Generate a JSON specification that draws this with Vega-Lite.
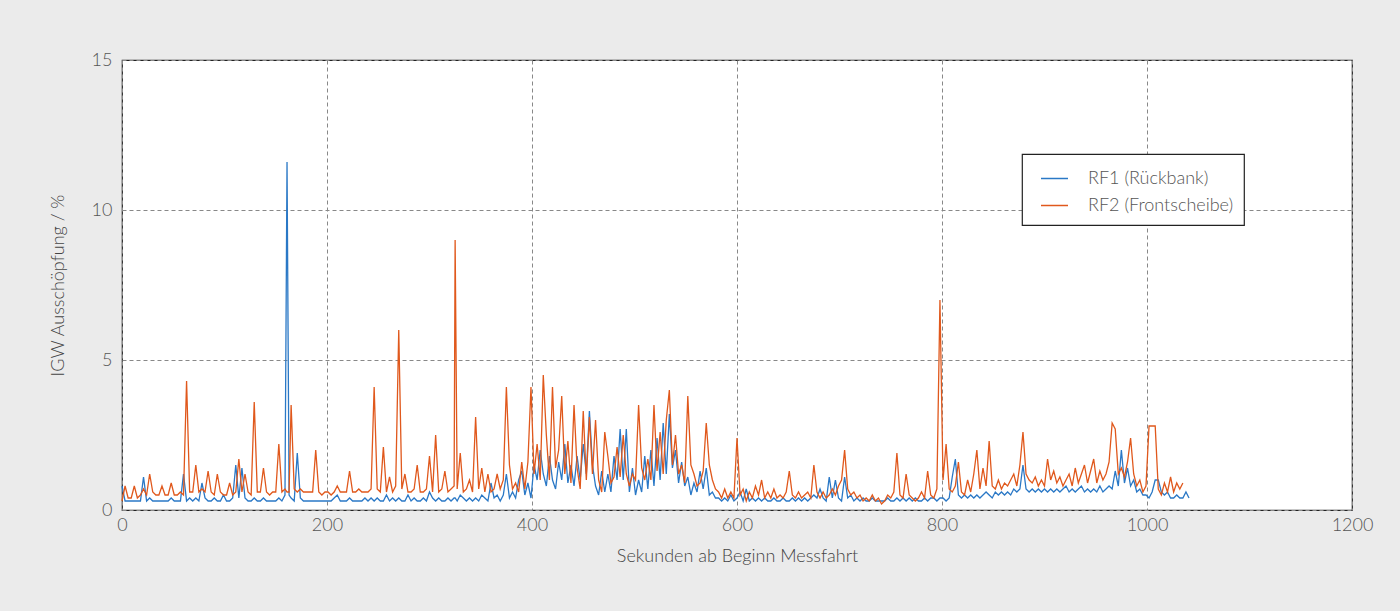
{
"$schema":"https://vega.github.io/schema/vega-lite/v6.json",
"width":1230,"height":450,
"autosize":{"type":"none"},
"padding":{"left":122,"top":60,"right":48,"bottom":101},
"background":"#ebebeb",
"config":{"view":{"fill":"white","stroke":"#222","strokeWidth":1.2},"font":"Lato","legend":{"strokeWidth":1.2}},
"data":{"values":[
{"t":0,"a":0.8,"b":0.3},{"t":3,"a":0.3,"b":0.8},{"t":6,"a":0.3,"b":0.4},{"t":9,"a":0.3,"b":0.4},{"t":12,"a":0.3,"b":0.8},{"t":15,"a":0.3,"b":0.4},{"t":18,"a":0.3,"b":0.5},{"t":21,"a":1.1,"b":0.7},{"t":24,"a":0.3,"b":0.5},{"t":27,"a":0.4,"b":1.2},{"t":30,"a":0.3,"b":0.6},{"t":33,"a":0.3,"b":0.5},{"t":36,"a":0.3,"b":0.5},{"t":39,"a":0.3,"b":0.8},{"t":42,"a":0.3,"b":0.5},{"t":45,"a":0.3,"b":0.5},{"t":48,"a":0.4,"b":0.9},{"t":51,"a":0.3,"b":0.5},{"t":54,"a":0.3,"b":0.5},{"t":57,"a":0.3,"b":0.6},{"t":60,"a":1.2,"b":0.5},{"t":63,"a":0.3,"b":4.3},{"t":66,"a":0.4,"b":0.6},{"t":69,"a":0.3,"b":0.6},{"t":72,"a":0.4,"b":1.5},{"t":75,"a":0.3,"b":0.6},{"t":78,"a":0.9,"b":0.7},{"t":81,"a":0.4,"b":0.6},{"t":84,"a":0.3,"b":1.3},{"t":87,"a":0.3,"b":0.6},{"t":90,"a":0.4,"b":0.5},{"t":93,"a":0.3,"b":1.2},{"t":96,"a":0.3,"b":0.6},{"t":99,"a":0.5,"b":0.5},
{"t":102,"a":0.3,"b":0.5},{"t":105,"a":0.3,"b":0.9},{"t":108,"a":0.4,"b":0.5},{"t":111,"a":1.5,"b":0.6},{"t":114,"a":0.4,"b":1.7},{"t":117,"a":1.4,"b":0.6},{"t":120,"a":0.4,"b":1.2},{"t":123,"a":0.3,"b":0.6},{"t":126,"a":0.3,"b":0.5},{"t":129,"a":0.4,"b":3.6},{"t":132,"a":0.3,"b":0.6},{"t":135,"a":0.3,"b":0.6},{"t":138,"a":0.4,"b":1.4},{"t":141,"a":0.3,"b":0.6},{"t":144,"a":0.3,"b":0.5},{"t":147,"a":0.3,"b":0.6},{"t":150,"a":0.3,"b":0.6},{"t":153,"a":0.4,"b":2.2},{"t":156,"a":0.3,"b":0.6},{"t":159,"a":0.5,"b":0.7},{"t":161,"a":11.6,"b":0.6},{"t":163,"a":0.5,"b":0.6},{"t":165,"a":0.4,"b":3.5},{"t":168,"a":0.3,"b":0.7},{"t":171,"a":1.9,"b":0.6},{"t":174,"a":0.4,"b":0.7},{"t":177,"a":0.3,"b":0.6},{"t":180,"a":0.3,"b":0.6},{"t":183,"a":0.3,"b":0.6},{"t":186,"a":0.3,"b":0.6},{"t":189,"a":0.3,"b":2.0},{"t":192,"a":0.3,"b":0.6},{"t":195,"a":0.3,"b":0.5},{"t":198,"a":0.3,"b":0.6},
{"t":201,"a":0.3,"b":0.6},{"t":204,"a":0.3,"b":0.5},{"t":207,"a":0.4,"b":0.6},{"t":210,"a":0.5,"b":0.8},{"t":213,"a":0.3,"b":0.6},{"t":216,"a":0.3,"b":0.6},{"t":219,"a":0.3,"b":0.6},{"t":222,"a":0.4,"b":1.3},{"t":225,"a":0.3,"b":0.6},{"t":228,"a":0.3,"b":0.6},{"t":231,"a":0.3,"b":0.7},{"t":234,"a":0.3,"b":0.6},{"t":237,"a":0.4,"b":0.6},{"t":240,"a":0.3,"b":0.6},{"t":243,"a":0.4,"b":0.7},{"t":246,"a":0.3,"b":4.1},{"t":249,"a":0.4,"b":0.7},{"t":252,"a":0.3,"b":0.6},{"t":255,"a":0.3,"b":2.1},{"t":258,"a":0.5,"b":0.6},{"t":261,"a":0.3,"b":1.1},{"t":264,"a":0.4,"b":0.6},{"t":267,"a":0.3,"b":0.8},{"t":270,"a":0.4,"b":6.0},{"t":273,"a":0.3,"b":0.7},{"t":276,"a":0.3,"b":1.2},{"t":279,"a":0.5,"b":0.6},{"t":282,"a":0.3,"b":0.6},{"t":285,"a":0.4,"b":0.7},{"t":288,"a":0.3,"b":1.5},{"t":291,"a":0.3,"b":0.6},{"t":294,"a":0.4,"b":0.6},{"t":297,"a":0.3,"b":0.7},
{"t":300,"a":0.6,"b":1.8},{"t":303,"a":0.4,"b":0.6},{"t":306,"a":0.3,"b":2.5},{"t":309,"a":0.4,"b":0.6},{"t":312,"a":0.3,"b":0.7},{"t":315,"a":0.3,"b":1.3},{"t":318,"a":0.4,"b":0.6},{"t":321,"a":0.3,"b":0.7},{"t":324,"a":0.4,"b":0.8},{"t":325,"a":0.4,"b":9.0},{"t":327,"a":0.3,"b":0.7},{"t":330,"a":0.5,"b":1.9},{"t":333,"a":0.4,"b":0.6},{"t":336,"a":0.3,"b":0.7},{"t":339,"a":0.4,"b":1.0},{"t":342,"a":0.3,"b":0.6},{"t":345,"a":0.4,"b":3.1},{"t":348,"a":0.3,"b":0.7},{"t":351,"a":0.5,"b":1.4},{"t":354,"a":0.4,"b":0.6},{"t":357,"a":0.3,"b":1.2},{"t":360,"a":0.9,"b":0.6},{"t":363,"a":0.4,"b":0.7},{"t":366,"a":0.5,"b":1.2},{"t":369,"a":0.3,"b":0.7},{"t":372,"a":0.5,"b":1.0},{"t":375,"a":1.2,"b":4.1},{"t":378,"a":0.4,"b":1.5},{"t":381,"a":0.6,"b":0.7},{"t":384,"a":0.4,"b":0.9},{"t":387,"a":1.0,"b":0.6},{"t":390,"a":1.3,"b":1.6},{"t":393,"a":0.5,"b":0.7},{"t":396,"a":0.9,"b":1.6},{"t":399,"a":0.4,"b":4.1},
{"t":402,"a":1.5,"b":1.2},{"t":405,"a":1.0,"b":2.2},{"t":408,"a":2.0,"b":1.0},{"t":411,"a":1.2,"b":4.5},{"t":414,"a":0.8,"b":2.5},{"t":417,"a":1.8,"b":1.0},{"t":420,"a":1.0,"b":4.1},{"t":423,"a":0.7,"b":1.4},{"t":426,"a":1.6,"b":2.0},{"t":429,"a":1.0,"b":3.8},{"t":432,"a":2.2,"b":1.2},{"t":435,"a":0.9,"b":2.3},{"t":438,"a":1.5,"b":0.9},{"t":441,"a":0.8,"b":3.5},{"t":444,"a":1.8,"b":1.4},{"t":447,"a":1.0,"b":0.7},{"t":450,"a":2.2,"b":3.3},{"t":453,"a":1.2,"b":1.0},{"t":456,"a":3.3,"b":3.1},{"t":459,"a":1.5,"b":1.2},{"t":462,"a":0.8,"b":3.0},{"t":465,"a":0.5,"b":1.0},{"t":468,"a":1.3,"b":0.6},{"t":471,"a":0.6,"b":2.6},{"t":474,"a":1.2,"b":1.8},{"t":477,"a":0.6,"b":0.9},{"t":480,"a":1.8,"b":1.1},{"t":483,"a":1.0,"b":2.1},{"t":486,"a":2.7,"b":1.1},{"t":489,"a":1.0,"b":2.5},{"t":492,"a":2.7,"b":1.2},{"t":495,"a":0.6,"b":0.8},{"t":498,"a":1.4,"b":1.2},
{"t":501,"a":0.5,"b":1.0},{"t":504,"a":1.0,"b":3.5},{"t":507,"a":0.6,"b":1.4},{"t":510,"a":1.8,"b":1.0},{"t":513,"a":0.7,"b":1.7},{"t":516,"a":2.0,"b":1.0},{"t":519,"a":0.8,"b":3.5},{"t":522,"a":2.4,"b":1.3},{"t":525,"a":1.0,"b":2.6},{"t":528,"a":2.9,"b":1.2},{"t":531,"a":1.2,"b":3.0},{"t":534,"a":3.2,"b":4.0},{"t":537,"a":1.4,"b":1.5},{"t":540,"a":2.0,"b":2.5},{"t":543,"a":0.9,"b":1.2},{"t":546,"a":1.6,"b":1.5},{"t":549,"a":0.8,"b":0.9},{"t":552,"a":1.1,"b":3.8},{"t":555,"a":0.5,"b":1.5},{"t":558,"a":0.9,"b":1.2},{"t":561,"a":0.6,"b":0.8},{"t":564,"a":1.3,"b":0.9},{"t":567,"a":0.7,"b":1.3},{"t":570,"a":1.4,"b":2.9},{"t":573,"a":0.5,"b":1.5},{"t":576,"a":0.6,"b":1.0},{"t":579,"a":0.4,"b":0.7},{"t":582,"a":0.4,"b":0.6},{"t":585,"a":0.3,"b":0.4},{"t":588,"a":0.4,"b":0.7},{"t":591,"a":0.3,"b":0.4},{"t":594,"a":0.5,"b":0.6},{"t":597,"a":0.3,"b":0.4},
{"t":600,"a":0.4,"b":2.4},{"t":603,"a":0.6,"b":0.5},{"t":606,"a":0.3,"b":0.7},{"t":609,"a":0.7,"b":0.3},{"t":612,"a":0.3,"b":0.6},{"t":615,"a":0.4,"b":0.4},{"t":618,"a":0.3,"b":0.8},{"t":621,"a":0.4,"b":0.5},{"t":624,"a":0.3,"b":1.0},{"t":627,"a":0.4,"b":0.4},{"t":630,"a":0.3,"b":0.6},{"t":633,"a":0.3,"b":0.4},{"t":636,"a":0.4,"b":0.7},{"t":639,"a":0.3,"b":0.4},{"t":642,"a":0.3,"b":0.5},{"t":645,"a":0.4,"b":0.4},{"t":648,"a":0.3,"b":0.6},{"t":651,"a":0.3,"b":1.3},{"t":654,"a":0.4,"b":0.5},{"t":657,"a":0.3,"b":0.4},{"t":660,"a":0.4,"b":0.6},{"t":663,"a":0.3,"b":0.4},{"t":666,"a":0.4,"b":0.5},{"t":669,"a":0.3,"b":0.6},{"t":672,"a":0.4,"b":0.4},{"t":675,"a":0.5,"b":1.5},{"t":678,"a":0.4,"b":0.6},{"t":681,"a":0.7,"b":0.4},{"t":684,"a":0.4,"b":0.6},{"t":687,"a":0.3,"b":0.4},{"t":690,"a":1.1,"b":0.5},{"t":693,"a":0.4,"b":0.7},{"t":696,"a":1.0,"b":0.5},{"t":699,"a":0.4,"b":0.8},
{"t":702,"a":0.3,"b":1.0},{"t":705,"a":1.1,"b":2.0},{"t":708,"a":0.4,"b":0.7},{"t":711,"a":0.5,"b":0.5},{"t":714,"a":0.3,"b":0.6},{"t":717,"a":0.4,"b":0.4},{"t":720,"a":0.3,"b":0.5},{"t":723,"a":0.4,"b":0.3},{"t":726,"a":0.3,"b":0.4},{"t":729,"a":0.3,"b":0.3},{"t":732,"a":0.4,"b":0.5},{"t":735,"a":0.3,"b":0.3},{"t":738,"a":0.3,"b":0.4},{"t":741,"a":0.3,"b":0.2},{"t":744,"a":0.3,"b":0.3},{"t":747,"a":0.4,"b":0.5},{"t":750,"a":0.3,"b":0.4},{"t":753,"a":0.3,"b":0.6},{"t":756,"a":0.4,"b":1.9},{"t":759,"a":0.3,"b":0.5},{"t":762,"a":0.4,"b":0.4},{"t":765,"a":0.3,"b":1.2},{"t":768,"a":0.4,"b":0.5},{"t":771,"a":0.3,"b":0.4},{"t":774,"a":0.4,"b":0.3},{"t":777,"a":0.3,"b":0.4},{"t":780,"a":0.3,"b":0.6},{"t":783,"a":0.4,"b":0.4},{"t":786,"a":0.3,"b":1.3},{"t":789,"a":0.4,"b":0.5},{"t":792,"a":0.4,"b":0.4},{"t":795,"a":0.3,"b":0.7},{"t":798,"a":0.4,"b":7.0},
{"t":801,"a":0.4,"b":1.0},{"t":804,"a":0.3,"b":2.2},{"t":807,"a":0.4,"b":0.7},{"t":810,"a":1.1,"b":0.6},{"t":813,"a":1.7,"b":0.8},{"t":816,"a":0.5,"b":1.6},{"t":819,"a":0.4,"b":0.6},{"t":822,"a":0.5,"b":0.5},{"t":825,"a":0.4,"b":1.0},{"t":828,"a":0.5,"b":0.6},{"t":831,"a":0.4,"b":1.2},{"t":834,"a":0.5,"b":2.0},{"t":837,"a":0.4,"b":0.7},{"t":840,"a":0.5,"b":1.4},{"t":843,"a":0.6,"b":0.8},{"t":846,"a":0.5,"b":2.3},{"t":849,"a":0.4,"b":0.8},{"t":852,"a":0.6,"b":0.7},{"t":855,"a":0.5,"b":1.0},{"t":858,"a":0.6,"b":0.7},{"t":861,"a":0.5,"b":0.9},{"t":864,"a":0.6,"b":0.8},{"t":867,"a":0.5,"b":1.0},{"t":870,"a":0.7,"b":1.2},{"t":873,"a":0.6,"b":0.8},{"t":876,"a":0.7,"b":1.5},{"t":879,"a":1.5,"b":2.6},{"t":882,"a":0.7,"b":1.2},{"t":885,"a":0.6,"b":1.0},{"t":888,"a":0.7,"b":0.9},{"t":891,"a":0.6,"b":1.1},{"t":894,"a":0.7,"b":0.8},{"t":897,"a":0.6,"b":1.0},
{"t":900,"a":0.7,"b":0.8},{"t":903,"a":0.6,"b":1.7},{"t":906,"a":0.7,"b":1.0},{"t":909,"a":0.6,"b":1.3},{"t":912,"a":0.7,"b":0.9},{"t":915,"a":0.6,"b":1.1},{"t":918,"a":0.7,"b":0.8},{"t":921,"a":0.8,"b":1.0},{"t":924,"a":0.6,"b":1.2},{"t":927,"a":0.7,"b":0.8},{"t":930,"a":0.6,"b":1.4},{"t":933,"a":0.7,"b":0.9},{"t":936,"a":0.8,"b":1.2},{"t":939,"a":0.6,"b":1.5},{"t":942,"a":0.7,"b":0.9},{"t":945,"a":0.6,"b":1.3},{"t":948,"a":0.7,"b":1.7},{"t":951,"a":0.6,"b":0.9},{"t":954,"a":0.8,"b":1.3},{"t":957,"a":0.6,"b":1.0},{"t":960,"a":0.7,"b":1.2},{"t":963,"a":0.8,"b":1.6},{"t":966,"a":0.7,"b":2.9},{"t":969,"a":1.3,"b":2.7},{"t":972,"a":0.8,"b":1.2},{"t":975,"a":2.0,"b":1.4},{"t":978,"a":0.9,"b":1.1},{"t":981,"a":1.4,"b":1.6},{"t":984,"a":0.8,"b":2.4},{"t":987,"a":1.0,"b":1.2},{"t":990,"a":0.6,"b":0.8},{"t":993,"a":0.7,"b":1.0},{"t":996,"a":0.5,"b":0.6},{"t":999,"a":0.5,"b":0.8},
{"t":1002,"a":0.4,"b":2.8},{"t":1005,"a":0.6,"b":2.8},{"t":1008,"a":1.0,"b":2.8},{"t":1011,"a":1.0,"b":0.7},{"t":1014,"a":0.6,"b":0.5},{"t":1017,"a":0.5,"b":0.9},{"t":1020,"a":0.6,"b":0.6},{"t":1023,"a":0.4,"b":1.1},{"t":1026,"a":0.4,"b":0.6},{"t":1029,"a":0.5,"b":0.9},{"t":1032,"a":0.4,"b":0.7},{"t":1035,"a":0.4,"b":0.9},{"t":1038,"a":0.6,"b":null},{"t":1041,"a":0.4,"b":null}
]},
"transform":[{"fold":["a","b"],"as":["s","v"]},{"filter":"datum.v != null"}],
"mark":{"type":"line","strokeWidth":1.3,"interpolate":"linear"},
"encoding":{
"x":{"field":"t","type":"quantitative","scale":{"domain":[0,1200],"nice":false},
"axis":{"values":[0,200,400,600,800,1000,1200],"format":"d","labelFlush":false,"title":"Sekunden ab Beginn Messfahrt","grid":true,"gridDash":[4,3],"gridColor":"#888","gridWidth":1,"ticks":false,"domain":false,"labelFontSize":18,"labelColor":"#555","labelFont":"Lato","labelFontWeight":300,"labelPadding":6,"titleFontSize":18,"titleColor":"#444","titleFont":"Lato","titleFontWeight":300,"titlePadding":13}},
"y":{"field":"v","type":"quantitative","scale":{"domain":[0,15],"nice":false},
"axis":{"values":[0,5,10,15],"format":"d","labelFlush":false,"title":"IGW Ausschöpfung / %","grid":true,"gridDash":[4,3],"gridColor":"#888","gridWidth":1,"ticks":false,"domain":false,"labelFontSize":18,"labelColor":"#555","labelFont":"Lato","labelFontWeight":300,"labelPadding":10,"titleFontSize":18,"titleColor":"#444","titleFont":"Lato","titleFontWeight":300,"titlePadding":24}},
"color":{"field":"s","type":"nominal","scale":{"domain":["a","b"],"range":["#2a78c6","#e0581c"]},
"legend":{"title":null,"orient":"none","legendX":900,"legendY":94,"direction":"vertical","fillColor":"white","strokeColor":"#222","padding":10,"symbolOffset":8,"symbolType":"stroke","symbolSize":729,"symbolStrokeWidth":1.5,"labelFontSize":18,"labelColor":"#555","labelFont":"Lato","labelFontWeight":300,"labelOffset":19,"rowPadding":3,"labelExpr":"datum.label == 'a' ? 'RF1 (Rückbank)' : 'RF2 (Frontscheibe)\u00a0\u00a0'"}}
}
}
